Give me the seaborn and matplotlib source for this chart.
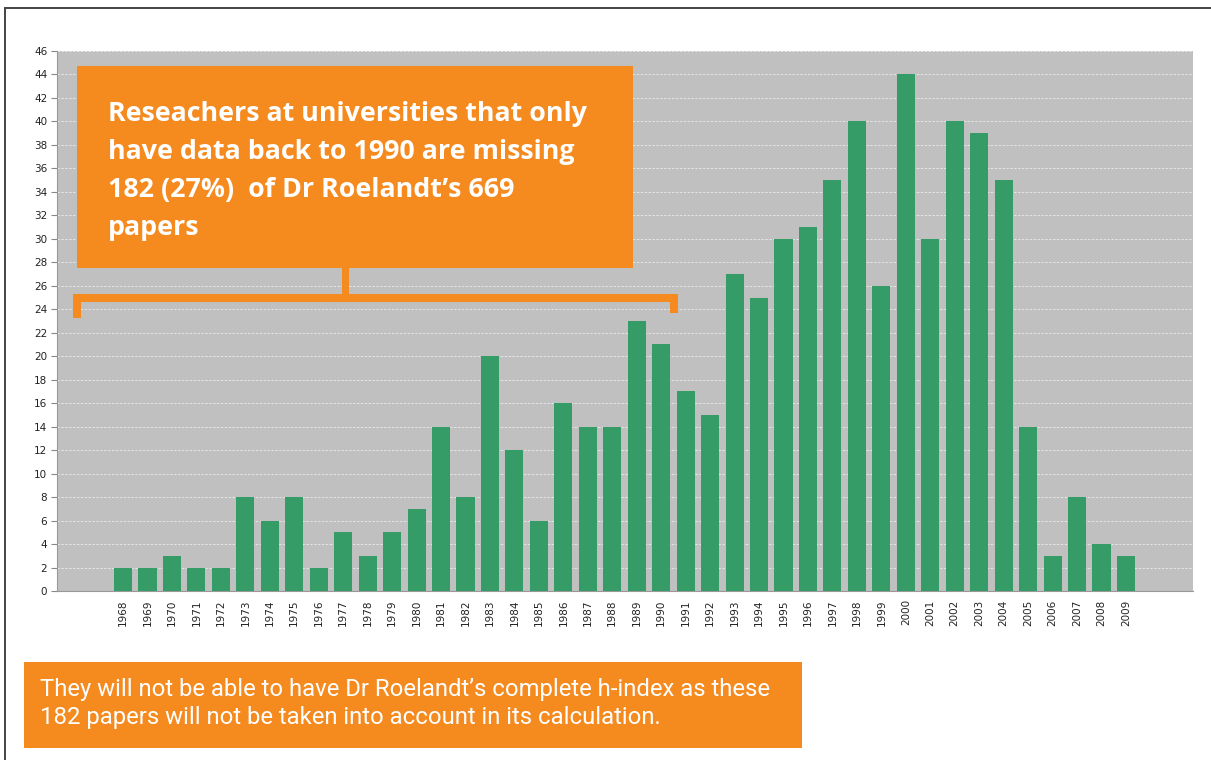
import numpy as np
import pandas as pd
import seaborn as sns
import matplotlib.pyplot as plt
from matplotlib.patches import Rectangle
from matplotlib.lines import Line2D

# papers per year
years = [str(y) for y in range(1968, 2010)]
papers = [2, 2, 3, 2, 2, 8, 6, 8, 2, 5,
          3, 5, 7, 14, 8, 20, 12, 6, 16, 14,
          14, 23, 21, 17, 15, 27, 25, 30, 31, 35,
          40, 26, 44, 30, 40, 39, 35, 14, 3, 8,
          4, 3]

callout_text = ("Reseachers at universities that only\n"
                "have data back to 1990 are missing\n"
                "182 (27%)  of Dr Roelandt\u2019s 669\n"
                "papers")
footer_text = ("They will not be able to have Dr Roelandt\u2019s complete h-index as these\n"
               "182 papers will not be taken into account in its calculation.")

orange = "#F58A1F"
green = "#359C68"

W, H = 1211, 760
df = pd.DataFrame({"year": years, "papers": papers})

sns.set_style("white")
fig = plt.figure(figsize=(W / 100, H / 100), dpi=100)
ax = fig.add_axes([57 / W, 1 - 591 / H, (1193 - 57) / W, (591 - 51) / H])
ax.set_facecolor("#C0C0C0")

sns.barplot(data=df, x="year", y="papers", color=green, saturation=1,
            width=0.74, linewidth=0, ax=ax, zorder=3)

ax.set_xlim(-2.7, len(years) - 1 + 2.74)
ax.set_ylim(0, 46)
ax.set_yticks(np.arange(0, 47, 2))
ax.yaxis.grid(True, color="white", linestyle=(0, (2.5, 1.5)), linewidth=0.7, alpha=0.6, zorder=0)
ax.set_axisbelow(True)
ax.set_xlabel("")
ax.set_ylabel("")
ax.tick_params(axis="x", length=0, labelsize=7.5, rotation=90, pad=6, labelcolor="#222222")
ax.tick_params(axis="y", length=4, width=0.8, color="#888888", labelsize=7.5, pad=3,
               labelcolor="#222222", left=True)
for s in ["top", "right"]:
    ax.spines[s].set_visible(False)
for s in ["left", "bottom"]:
    ax.spines[s].set_color("#999999")
    ax.spines[s].set_linewidth(0.8)


def px_rect(x0, y0, x1, y1, color):
    # rectangle given in image pixels (top-left origin)
    fig.add_artist(Rectangle((x0 / W, 1 - y1 / H), (x1 - x0) / W, (y1 - y0) / H,
                             transform=fig.transFigure, facecolor=color,
                             edgecolor="none", zorder=10))


# callout box and bracket
px_rect(77, 66, 633, 268, orange)
px_rect(73, 294, 678, 302, orange)
px_rect(342, 266, 349, 296, orange)
px_rect(73, 300, 81, 318, orange)
px_rect(670, 300, 678, 313, orange)
fig.text(108 / W, 1 - 101 / H, callout_text, color="white", fontsize=19.3,
         fontweight="bold", family="Open Sans", va="top", ha="left",
         linespacing=1.6, zorder=11)

# footer box
px_rect(24, 662, 802, 748, orange)
fig.text(40 / W, 1 - 678 / H, footer_text, color="white", fontsize=17.2,
         family="Roboto", va="top", ha="left", linespacing=1.27, zorder=11)

# outer frame
fig.add_artist(Line2D([5 / W, 1], [1 - 8 / H, 1 - 8 / H], transform=fig.transFigure,
                      color="#444444", linewidth=1.4))
fig.add_artist(Line2D([5 / W, 5 / W], [0, 1 - 8 / H], transform=fig.transFigure,
                      color="#444444", linewidth=1.4))

fig.savefig("out.png", dpi=100)
